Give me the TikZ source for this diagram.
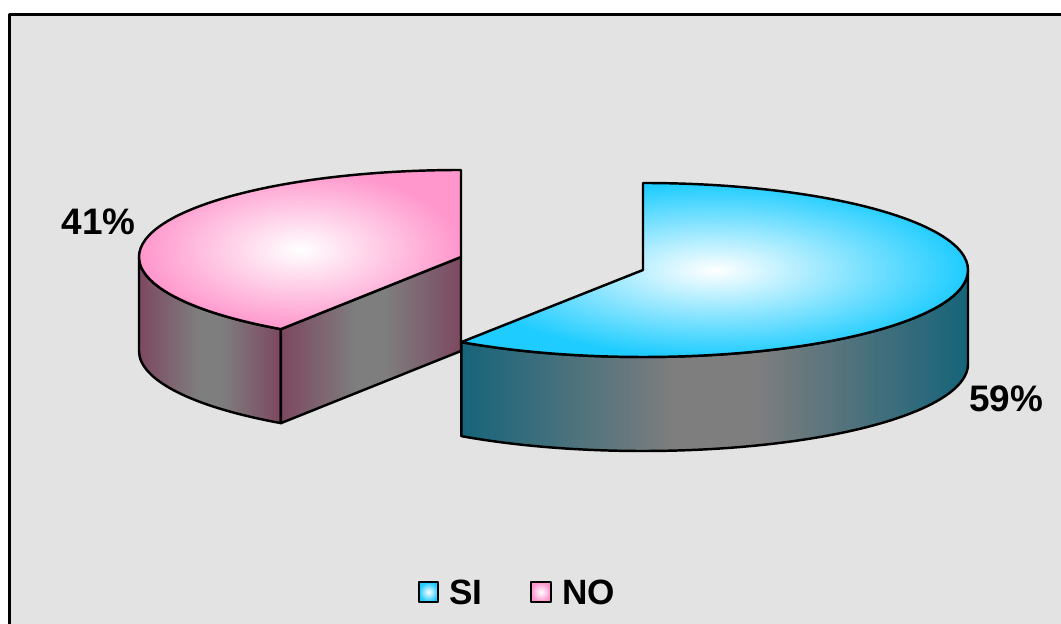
\documentclass[tikz,border=0pt]{standalone}
\usepackage{fontspec}
\setmainfont{Liberation Sans}
\usetikzlibrary{positioning}
\definecolor{sicyan}{RGB}{30,204,255}
\definecolor{siteal}{RGB}{22,100,122}
\definecolor{nopink}{RGB}{255,150,204}
\definecolor{nomauve}{RGB}{125,72,97}
\definecolor{sidegray}{RGB}{126,126,126}
\definecolor{stone}{RGB}{227,227,227}
\pgfdeclarehorizontalshading{siside}{100bp}{color(0bp)=(siteal); color(25bp)=(siteal); color(46bp)=(sidegray); color(54bp)=(sidegray); color(75bp)=(siteal); color(100bp)=(siteal)}
\pgfdeclarehorizontalshading{noside}{100bp}{color(0bp)=(nomauve); color(25bp)=(nomauve); color(46bp)=(sidegray); color(54bp)=(sidegray); color(75bp)=(nomauve); color(100bp)=(nomauve)}

\begin{document}
\begin{tikzpicture}[x=0.02cm, y=0.02cm, line join=round,
    rim/.style={draw=black, line width=1.4pt},
    pct/.style={font=\bfseries\fontsize{21}{21}\selectfont, inner sep=0pt},
    legbox/.style={draw=black, line width=1.2pt, minimum size=11pt, inner sep=0pt}]
  \useasboundingbox (0,0) rectangle (1061,624);
  \clip (0,0) rectangle (1061,624);
  \fill[stone] (9.5,-20) rectangle (1080,609.5);
  \draw[line width=1.7pt] (9.5,-20) -- (9.5,609.5) -- (1080,609.5);
  \coordinate (no-c) at (461,367);
  \path (no-c) ++(90:322 and 87) coordinate (no-t)
        (no-c) ++(180:322 and 87) coordinate (no-l)
        (no-c) ++(236:322 and 87) coordinate (no-e)
        (no-c) ++(0,-94) coordinate (no-cb)
        (no-e) ++(0,-94) coordinate (no-eb);
  \shade[rim, shading=noside] (no-l) -- ++(0,-94) arc[start angle=180, end angle=236, x radius=322, y radius=87] -- (no-e) arc[start angle=236, end angle=180, x radius=322, y radius=87] -- cycle;
  \shade[rim, shading=noside] (no-c) -- (no-e) -- (no-eb) -- (no-cb) -- cycle;
  \shade[rim, inner color=white, outer color=nopink] (no-c) -- (no-t) arc[start angle=90, end angle=236, x radius=322, y radius=87] -- cycle;
  \coordinate (si-c) at (643,354);
  \path (si-c) ++(90:325 and 87) coordinate (si-t)
        (si-c) ++(0:325 and 87) coordinate (si-r)
        (si-c) ++(-124:325 and 87) coordinate (si-e);
  \shade[rim, shading=siside] (si-e) -- ++(0,-94) arc[start angle=-124, end angle=0, x radius=325, y radius=87] -- (si-r) arc[start angle=0, end angle=-124, x radius=325, y radius=87] -- cycle;
  \shade[rim, inner color=white, outer color=sicyan] (si-c) -- (si-t) arc[start angle=90, end angle=-124, x radius=325, y radius=87] -- cycle;
  \node[pct] (no-lbl) at (98.5,402) {41\%};
  \node[pct] (si-lbl) at (1006,225.5) {59\%};
  \node[legbox, inner color=white, outer color=sicyan] (si-box) at (428.5,32) {};
  \node[pct, font=\bfseries\fontsize{20}{20}\selectfont, right=5.5pt of si-box] (si-txt) {SI};
  \node[legbox, inner color=white, outer color=nopink, right=27pt of si-txt] (no-box) {};
  \node[pct, font=\bfseries\fontsize{20}{20}\selectfont, right=6pt of no-box] (no-txt) {NO};
\end{tikzpicture}
\end{document}
